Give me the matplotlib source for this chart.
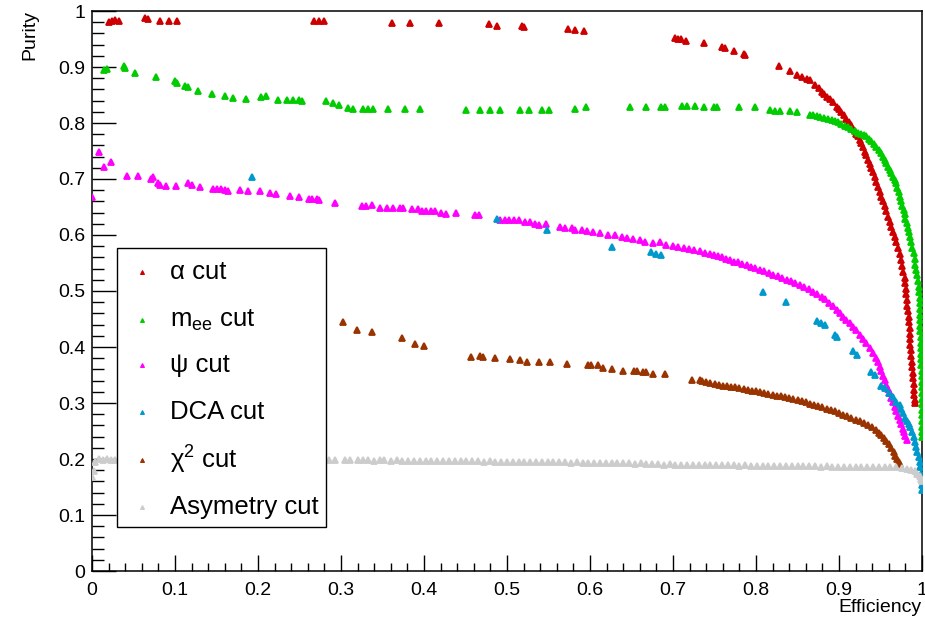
import matplotlib
matplotlib.use("Agg")
import matplotlib.pyplot as plt
from matplotlib.patches import Rectangle
from matplotlib.ticker import MultipleLocator, FuncFormatter

plt.rcParams['font.family'] = ['Liberation Sans', 'DejaVu Sans']
plt.rcParams['mathtext.fontset'] = 'custom'
plt.rcParams['mathtext.rm'] = 'Liberation Sans'
plt.rcParams['mathtext.it'] = 'Liberation Sans:italic'

# (efficiency, purity) for each selection cut
alpha_cut = [
    (0.020, 0.981), (0.024, 0.983), (0.028, 0.984), (0.032, 0.982), (0.064, 0.987), (0.067, 0.986),
    (0.082, 0.983), (0.093, 0.983), (0.102, 0.983), (0.268, 0.982), (0.274, 0.983), (0.280, 0.982),
    (0.362, 0.978), (0.383, 0.978), (0.418, 0.979), (0.478, 0.976), (0.488, 0.974), (0.518, 0.974),
    (0.520, 0.971), (0.574, 0.968), (0.582, 0.966), (0.593, 0.965), (0.702, 0.952), (0.706, 0.950),
    (0.710, 0.950), (0.716, 0.947), (0.737, 0.942), (0.759, 0.935), (0.763, 0.934), (0.774, 0.929),
    (0.785, 0.924), (0.787, 0.922), (0.828, 0.902), (0.841, 0.892), (0.849, 0.886), (0.855, 0.882),
    (0.861, 0.879), (0.865, 0.877), (0.871, 0.868), (0.876, 0.862), (0.879, 0.856), (0.882, 0.852),
    (0.885, 0.847), (0.889, 0.843), (0.893, 0.838), (0.897, 0.829), (0.900, 0.825), (0.903, 0.820),
    (0.906, 0.814), (0.909, 0.808), (0.912, 0.802), (0.915, 0.796), (0.917, 0.790), (0.919, 0.785),
    (0.921, 0.780), (0.923, 0.776), (0.925, 0.770), (0.927, 0.764), (0.929, 0.757), (0.931, 0.749),
    (0.933, 0.742), (0.935, 0.734), (0.937, 0.727), (0.939, 0.719), (0.941, 0.712), (0.943, 0.704),
    (0.945, 0.695), (0.947, 0.686), (0.949, 0.677), (0.951, 0.668), (0.953, 0.660), (0.955, 0.651),
    (0.957, 0.642), (0.959, 0.633), (0.961, 0.624), (0.963, 0.615), (0.965, 0.606), (0.967, 0.597),
    (0.969, 0.587), (0.971, 0.576), (0.973, 0.566), (0.975, 0.555), (0.976, 0.545), (0.977, 0.534),
    (0.979, 0.524), (0.980, 0.514), (0.981, 0.504), (0.981, 0.494), (0.982, 0.484), (0.982, 0.474),
    (0.983, 0.464), (0.984, 0.454), (0.984, 0.444), (0.985, 0.434), (0.985, 0.424), (0.986, 0.414),
    (0.986, 0.404), (0.987, 0.394), (0.987, 0.384), (0.988, 0.374), (0.988, 0.364), (0.989, 0.354),
    (0.989, 0.344), (0.990, 0.334), (0.990, 0.324), (0.990, 0.314), (0.991, 0.305), (0.991, 0.300),
]

mee_cut = [
    (0.014, 0.895), (0.018, 0.897), (0.038, 0.901), (0.040, 0.898), (0.052, 0.889), (0.077, 0.883),
    (0.100, 0.875), (0.103, 0.871), (0.112, 0.866), (0.116, 0.865), (0.128, 0.857), (0.144, 0.852),
    (0.160, 0.848), (0.170, 0.844), (0.186, 0.843), (0.204, 0.846), (0.210, 0.848), (0.224, 0.841),
    (0.235, 0.841), (0.242, 0.841), (0.249, 0.841), (0.253, 0.840), (0.282, 0.839), (0.290, 0.835),
    (0.297, 0.833), (0.308, 0.827), (0.315, 0.825), (0.327, 0.825), (0.333, 0.825), (0.338, 0.825),
    (0.357, 0.825), (0.377, 0.825), (0.395, 0.825), (0.451, 0.823), (0.468, 0.823), (0.480, 0.823),
    (0.492, 0.823), (0.516, 0.823), (0.527, 0.823), (0.542, 0.823), (0.550, 0.823), (0.582, 0.825),
    (0.595, 0.828), (0.648, 0.828), (0.668, 0.828), (0.686, 0.828), (0.690, 0.828), (0.711, 0.830),
    (0.717, 0.830), (0.727, 0.830), (0.737, 0.828), (0.749, 0.828), (0.753, 0.828), (0.779, 0.828),
    (0.799, 0.828), (0.817, 0.824), (0.823, 0.822), (0.829, 0.822), (0.841, 0.822), (0.849, 0.819),
    (0.865, 0.815), (0.869, 0.814), (0.873, 0.812), (0.877, 0.811), (0.882, 0.809), (0.887, 0.808),
    (0.891, 0.806), (0.895, 0.804), (0.899, 0.801), (0.903, 0.798), (0.907, 0.795), (0.911, 0.792),
    (0.915, 0.789), (0.919, 0.786), (0.923, 0.783), (0.927, 0.780), (0.930, 0.778), (0.933, 0.776),
    (0.936, 0.771), (0.939, 0.767), (0.942, 0.762), (0.945, 0.758), (0.948, 0.752), (0.951, 0.746),
    (0.953, 0.740), (0.955, 0.734), (0.957, 0.728), (0.959, 0.722), (0.961, 0.716), (0.963, 0.710),
    (0.965, 0.704), (0.967, 0.698), (0.969, 0.692), (0.970, 0.684), (0.972, 0.676), (0.973, 0.668),
    (0.975, 0.660), (0.976, 0.652), (0.978, 0.645), (0.979, 0.637), (0.980, 0.629), (0.982, 0.621),
    (0.983, 0.613), (0.984, 0.605), (0.986, 0.597), (0.987, 0.587), (0.988, 0.577), (0.990, 0.567),
    (0.991, 0.557), (0.992, 0.547), (0.993, 0.538), (0.994, 0.528), (0.995, 0.518), (0.996, 0.508),
    (0.996, 0.498), (0.997, 0.488), (0.997, 0.478), (0.997, 0.468), (0.998, 0.458), (0.998, 0.448),
    (0.998, 0.438), (0.998, 0.428), (0.999, 0.418), (0.999, 0.408), (0.999, 0.398), (0.999, 0.388),
    (0.999, 0.378), (0.999, 0.368), (1.000, 0.358), (1.000, 0.348), (1.000, 0.338), (1.000, 0.328),
    (1.000, 0.318), (1.000, 0.308), (1.000, 0.298), (1.000, 0.288), (1.000, 0.278), (1.000, 0.268),
    (1.000, 0.258), (1.000, 0.248), (1.000, 0.240),
]

psi_cut = [
    (0.000, 0.668), (0.009, 0.748), (0.015, 0.722), (0.023, 0.731), (0.042, 0.706), (0.055, 0.706),
    (0.071, 0.700), (0.073, 0.703), (0.079, 0.693), (0.082, 0.690), (0.089, 0.688), (0.101, 0.688),
    (0.116, 0.692), (0.120, 0.690), (0.130, 0.686), (0.146, 0.682), (0.150, 0.682), (0.156, 0.682),
    (0.160, 0.680), (0.164, 0.678), (0.178, 0.681), (0.188, 0.678), (0.202, 0.678), (0.215, 0.675),
    (0.222, 0.673), (0.239, 0.670), (0.249, 0.668), (0.261, 0.665), (0.265, 0.664), (0.271, 0.665),
    (0.274, 0.663), (0.293, 0.658), (0.325, 0.652), (0.330, 0.651), (0.337, 0.654), (0.347, 0.649),
    (0.355, 0.649), (0.363, 0.649), (0.371, 0.649), (0.375, 0.649), (0.385, 0.646), (0.393, 0.647),
    (0.397, 0.643), (0.403, 0.643), (0.408, 0.643), (0.413, 0.643), (0.421, 0.640), (0.427, 0.638),
    (0.439, 0.639), (0.461, 0.636), (0.466, 0.636), (0.492, 0.626), (0.497, 0.626), (0.503, 0.626),
    (0.508, 0.626), (0.514, 0.626), (0.522, 0.623), (0.528, 0.623), (0.534, 0.619), (0.539, 0.617),
    (0.547, 0.619), (0.564, 0.615), (0.570, 0.612), (0.578, 0.612), (0.582, 0.609), (0.590, 0.609),
    (0.596, 0.608), (0.604, 0.605), (0.612, 0.603), (0.622, 0.600), (0.630, 0.600), (0.638, 0.597),
    (0.644, 0.594), (0.652, 0.592), (0.660, 0.591), (0.666, 0.588), (0.676, 0.585), (0.684, 0.587),
    (0.692, 0.582), (0.700, 0.580), (0.706, 0.579), (0.713, 0.577), (0.719, 0.575), (0.725, 0.573),
    (0.733, 0.571), (0.739, 0.567), (0.744, 0.566), (0.749, 0.565), (0.754, 0.563), (0.759, 0.561),
    (0.764, 0.558), (0.769, 0.556), (0.773, 0.552), (0.778, 0.551), (0.783, 0.549), (0.789, 0.546),
    (0.794, 0.543), (0.799, 0.541), (0.805, 0.538), (0.810, 0.535), (0.816, 0.532), (0.821, 0.529),
    (0.826, 0.526), (0.831, 0.523), (0.837, 0.520), (0.842, 0.517), (0.847, 0.514), (0.853, 0.511),
    (0.858, 0.507), (0.864, 0.503), (0.869, 0.499), (0.874, 0.494), (0.879, 0.489), (0.883, 0.485),
    (0.888, 0.479), (0.893, 0.473), (0.897, 0.466), (0.901, 0.460), (0.905, 0.454), (0.909, 0.448),
    (0.913, 0.442), (0.917, 0.436), (0.921, 0.430), (0.925, 0.422), (0.929, 0.414), (0.933, 0.407),
    (0.937, 0.398), (0.941, 0.389), (0.944, 0.381), (0.947, 0.373), (0.949, 0.365), (0.951, 0.357),
    (0.953, 0.349), (0.955, 0.341), (0.957, 0.333), (0.959, 0.325), (0.961, 0.317), (0.963, 0.309),
    (0.965, 0.301), (0.967, 0.293), (0.969, 0.285), (0.971, 0.277), (0.973, 0.270), (0.975, 0.262),
    (0.977, 0.254), (0.978, 0.248), (0.980, 0.241), (0.982, 0.234),
]

dca_cut = [
    (0.193, 0.704), (0.488, 0.628), (0.548, 0.609), (0.626, 0.579), (0.674, 0.569), (0.680, 0.566),
    (0.686, 0.564), (0.809, 0.498), (0.836, 0.481), (0.873, 0.447), (0.878, 0.443), (0.883, 0.439),
    (0.895, 0.421), (0.897, 0.417), (0.917, 0.392), (0.922, 0.386), (0.939, 0.356), (0.943, 0.350),
    (0.951, 0.330), (0.955, 0.326), (0.960, 0.318), (0.965, 0.310), (0.969, 0.302), (0.973, 0.296),
    (0.975, 0.289), (0.977, 0.282), (0.979, 0.274), (0.982, 0.267), (0.984, 0.262), (0.986, 0.258),
    (0.988, 0.249), (0.990, 0.240), (0.991, 0.231), (0.993, 0.222), (0.994, 0.213), (0.996, 0.204),
    (0.997, 0.195), (0.998, 0.186), (0.999, 0.174), (1.000, 0.163), (1.000, 0.153), (1.000, 0.145),
]

chi2_cut = [
    (0.303, 0.444), (0.319, 0.430), (0.337, 0.426), (0.374, 0.416), (0.389, 0.405), (0.400, 0.402),
    (0.457, 0.383), (0.468, 0.384), (0.471, 0.383), (0.485, 0.381), (0.504, 0.378), (0.516, 0.376),
    (0.524, 0.373), (0.538, 0.373), (0.552, 0.373), (0.572, 0.370), (0.597, 0.367), (0.601, 0.367),
    (0.610, 0.367), (0.616, 0.362), (0.627, 0.360), (0.640, 0.357), (0.653, 0.357), (0.657, 0.357),
    (0.664, 0.355), (0.668, 0.355), (0.676, 0.352), (0.690, 0.352), (0.723, 0.341), (0.732, 0.341),
    (0.735, 0.339), (0.740, 0.337), (0.745, 0.335), (0.750, 0.334), (0.755, 0.333), (0.760, 0.331),
    (0.765, 0.330), (0.770, 0.329), (0.775, 0.328), (0.780, 0.326), (0.785, 0.325), (0.790, 0.323),
    (0.795, 0.322), (0.800, 0.321), (0.805, 0.319), (0.810, 0.318), (0.815, 0.316), (0.820, 0.315),
    (0.825, 0.313), (0.830, 0.312), (0.835, 0.310), (0.840, 0.309), (0.845, 0.307), (0.850, 0.305),
    (0.855, 0.303), (0.860, 0.301), (0.865, 0.298), (0.870, 0.296), (0.875, 0.294), (0.880, 0.292),
    (0.885, 0.290), (0.890, 0.287), (0.895, 0.285), (0.900, 0.282), (0.905, 0.279), (0.910, 0.277),
    (0.915, 0.274), (0.920, 0.270), (0.925, 0.267), (0.930, 0.264), (0.935, 0.260), (0.940, 0.257),
    (0.944, 0.252), (0.948, 0.247), (0.951, 0.243), (0.954, 0.238), (0.957, 0.232), (0.960, 0.226),
    (0.963, 0.220), (0.966, 0.213), (0.968, 0.206), (0.970, 0.200), (0.972, 0.195), (0.973, 0.191),
]

asym_cut = [
    (0.000, 0.168), (0.002, 0.178), (0.004, 0.195), (0.008, 0.200), (0.013, 0.199), (0.018, 0.200),
    (0.023, 0.198), (0.028, 0.199), (0.286, 0.199), (0.293, 0.199), (0.305, 0.198), (0.311, 0.198),
    (0.321, 0.199), (0.327, 0.198), (0.333, 0.198), (0.340, 0.197), (0.347, 0.198), (0.352, 0.199),
    (0.360, 0.197), (0.367, 0.198), (0.374, 0.197), (0.381, 0.197), (0.388, 0.197), (0.395, 0.197),
    (0.402, 0.197), (0.409, 0.196), (0.416, 0.197), (0.423, 0.196), (0.430, 0.196), (0.437, 0.196),
    (0.444, 0.196), (0.451, 0.196), (0.458, 0.196), (0.465, 0.196), (0.472, 0.195), (0.479, 0.196),
    (0.486, 0.195), (0.493, 0.195), (0.500, 0.195), (0.507, 0.195), (0.514, 0.195), (0.521, 0.195),
    (0.528, 0.194), (0.535, 0.195), (0.542, 0.194), (0.549, 0.194), (0.556, 0.194), (0.563, 0.194),
    (0.570, 0.194), (0.577, 0.193), (0.584, 0.194), (0.591, 0.193), (0.598, 0.193), (0.605, 0.193),
    (0.612, 0.193), (0.619, 0.192), (0.626, 0.193), (0.633, 0.192), (0.640, 0.192), (0.647, 0.192),
    (0.654, 0.191), (0.661, 0.192), (0.668, 0.191), (0.675, 0.191), (0.682, 0.191), (0.689, 0.190),
    (0.696, 0.191), (0.703, 0.190), (0.710, 0.190), (0.717, 0.190), (0.724, 0.190), (0.731, 0.189),
    (0.738, 0.190), (0.745, 0.189), (0.752, 0.189), (0.759, 0.189), (0.766, 0.189), (0.773, 0.189),
    (0.780, 0.188), (0.787, 0.189), (0.794, 0.188), (0.801, 0.188), (0.808, 0.188), (0.815, 0.188),
    (0.822, 0.188), (0.829, 0.187), (0.836, 0.188), (0.843, 0.187), (0.850, 0.187), (0.857, 0.187),
    (0.864, 0.187), (0.871, 0.187), (0.878, 0.186), (0.885, 0.187), (0.892, 0.186), (0.899, 0.186),
    (0.906, 0.186), (0.913, 0.186), (0.920, 0.186), (0.927, 0.186), (0.934, 0.185), (0.941, 0.186),
    (0.948, 0.185), (0.955, 0.185), (0.962, 0.185), (0.969, 0.185), (0.976, 0.184), (0.982, 0.183),
    (0.987, 0.181), (0.991, 0.178), (0.994, 0.174), (0.997, 0.169), (0.999, 0.165), (1.000, 0.161),
]

series_labels = ["α cut", r"m$_{\mathrm{ee}}$ cut", "ψ cut", "DCA cut", r"χ$^{\mathrm{2}}$ cut", "Asymetry cut"]
series_data = [alpha_cut, mee_cut, psi_cut, dca_cut, chi2_cut, asym_cut]
series_colors = ["#cc0000", "#00cc00", "#ff00ff", "#0099cc", "#993300", "#cccccc"]

fig = plt.figure(figsize=(9.25, 6.22), dpi=100)
ax = fig.add_axes([92 / 925, 51 / 622, 830 / 925, 560 / 622])

for pts, col in zip(series_data, series_colors):
    xs = [p[0] for p in pts]
    ys = [p[1] for p in pts]
    ax.plot(xs, ys, ls='none', marker='^', ms=4.4, mfc=col, mec=col, mew=1.3, zorder=3)

ax.set_xlim(0, 1)
ax.set_ylim(0, 1)

fmt = FuncFormatter(lambda v, pos: f"{v:g}")
ax.xaxis.set_major_locator(MultipleLocator(0.1))
ax.xaxis.set_minor_locator(MultipleLocator(0.02))
ax.yaxis.set_major_locator(MultipleLocator(0.1))
ax.yaxis.set_minor_locator(MultipleLocator(0.02))
ax.xaxis.set_major_formatter(fmt)
ax.yaxis.set_major_formatter(fmt)

ax.tick_params(axis='both', which='both', direction='in', top=False, right=False,
               width=1.0, color='black', labelsize=14)
ax.tick_params(axis='x', which='major', length=11.5, pad=8)
ax.tick_params(axis='x', which='minor', length=5.8)
ax.tick_params(axis='y', which='major', length=17, pad=5)
ax.tick_params(axis='y', which='minor', length=8.6)
for sp in ax.spines.values():
    sp.set_linewidth(1.1)

fig.text(922 / 925, 1 - 607 / 622, "Efficiency", ha='right', va='center', fontsize=14)
fig.text(30 / 925, 1 - 10 / 622, "Purity", ha='center', va='top', rotation=90, fontsize=14)

# legend box
lx0, ly0, lx1, ly1 = 0.030, 0.0786, 0.282, 0.577
ax.add_patch(Rectangle((lx0, ly0), lx1 - lx0, ly1 - ly0, transform=ax.transAxes,
                       facecolor='white', edgecolor='black', lw=1.0, zorder=5))
entry_y = [0.534, 0.448, 0.368, 0.284, 0.198, 0.114]
for lab, col, yy in zip(series_labels, series_colors, entry_y):
    ax.plot([0.060], [yy], transform=ax.transAxes, ls='none', marker='^', ms=2.8,
            mfc=col, mec=col, mew=0.8, zorder=6, clip_on=False)
    ax.text(0.094, yy, lab, transform=ax.transAxes, ha='left', va='center',
            fontsize=18.5, zorder=6)

fig.savefig("out.png", dpi=100)
